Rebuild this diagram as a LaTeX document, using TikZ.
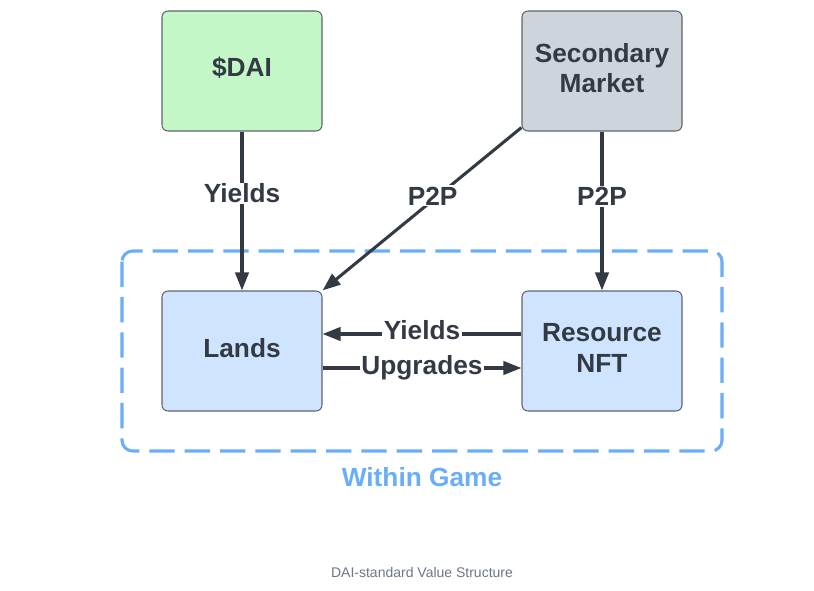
\documentclass[tikz,border=0pt]{standalone}
\usepackage{fontspec}
\setmainfont{Liberation Sans}
\usetikzlibrary{arrows.meta}
\definecolor{ink}{HTML}{333A44}
\definecolor{edge}{HTML}{5F646B}
\definecolor{dai}{HTML}{C3F7C8}
\definecolor{sec}{HTML}{CED4DC}
\definecolor{game}{HTML}{CFE4FF}
\definecolor{frame}{HTML}{6AADF9}
\definecolor{cap}{HTML}{6E7682}
\tikzset{
  box/.style={draw=edge, line width=0.8pt, rounded corners=4.5pt, minimum width=120pt, minimum height=90pt, inner sep=0pt},
  boxtext/.style={text=ink, font=\fontsize{19.7}{23}\selectfont\bfseries, align=center, inner sep=0pt, yshift=2.2pt},
  conn/.style={draw=ink, line width=2.3pt, -{Triangle[length=13.5pt,width=10pt]}},
  lbl/.style={fill=white, inner sep=1pt, text=ink, font=\fontsize{19.7}{22}\selectfont\bfseries},
}
\begin{document}
\begin{tikzpicture}[x=0.75pt,y=-0.75pt]
\useasboundingbox (0,0) rectangle (814,591);
\draw[frame, line width=2.3pt, dash pattern=on 19pt off 7.5pt, rounded corners=8pt] (122,251) rectangle (722,451);
\node[box, fill=dai, label={[boxtext]center:\$DAI}] (dai) at (242,71) {};
\node[box, fill=sec, label={[boxtext]center:Secondary\\Market}] (sec) at (602,71) {};
\node[box, fill=game, label={[boxtext]center:Lands}] (lands) at (242,351) {};
\node[box, fill=game, label={[boxtext]center:Resource\\NFT}] (res) at (602,351) {};
\draw[conn] (dai.south) -- node[lbl, pos=0.39] (l1) {Yields} (lands.north);
\draw[conn] (sec.south west) ++(0,-4) coordinate (s1) (s1) -- node[lbl, pos=0.42, xshift=-4pt] (l2) {P2P} (lands.north east);
\draw[conn] (sec.south) -- node[lbl, pos=0.41] (l3) {P2P} (res.north);
\draw[conn] (res.west |- 0,334) -- node[lbl, pos=0.5, yshift=3pt] (l4) {Yields} (lands.east |- 0,334);
\draw[conn] (lands.east |- 0,368) -- node[lbl, pos=0.5, yshift=0.5pt] (l5) {Upgrades} (res.west |- 0,368);
\node[text=frame, font=\fontsize{19.7}{22}\selectfont\bfseries] (wg) at (422,477) {Within Game};
\node[text=cap, font=\fontsize{10.5}{12}\selectfont] (capt) at (422,572.5) {DAI-standard Value Structure};
\end{tikzpicture}
\end{document}
